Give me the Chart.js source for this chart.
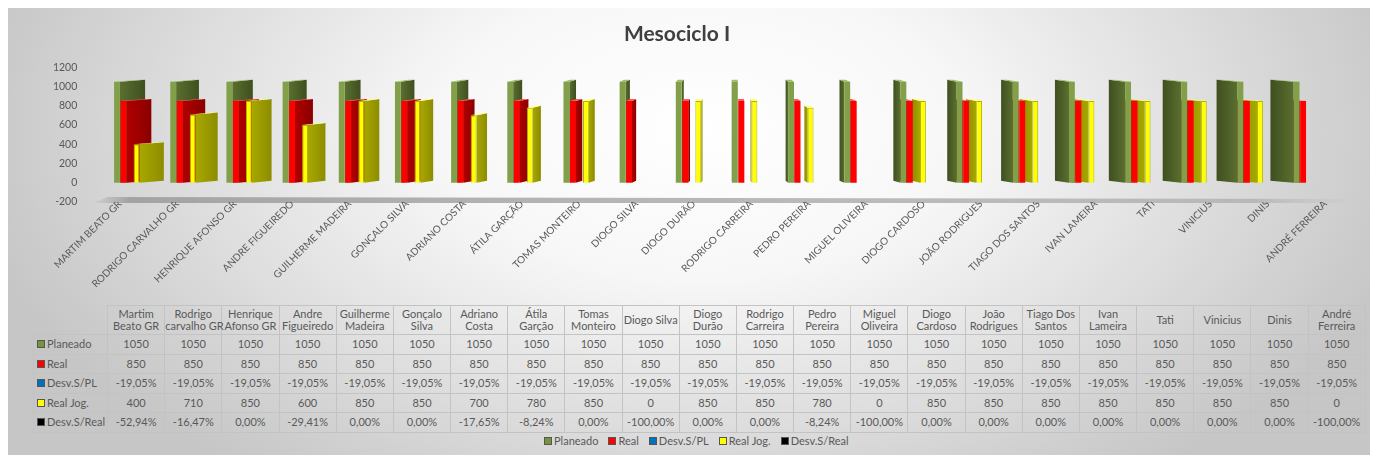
<!DOCTYPE html>
<html lang="pt">
<head>
<meta charset="utf-8">
<title>Mesociclo I</title>
<script src="https://cdn.jsdelivr.net/npm/chart.js@4.4.1/dist/chart.umd.min.js"></script>
<style>
  html, body { margin: 0; padding: 0; background: #ffffff; }
  body { position: relative; width: 1373px; height: 459px; overflow: hidden;
         font-family: Lato, "Liberation Sans", sans-serif; color: #595959; }
  #fundo { position: absolute; left: 8px; top: 8px; width: 1362px; height: 447px;
           background: radial-gradient(ellipse 740px 430px at 690px 120px,
                       #ffffff 0%, #f7f7f7 35%, #dddddd 70%, #c6c6c6 100%); }
  #grafico { position: absolute; left: 0; top: 0; }
  #tabela { position: absolute; left: 33px; top: 305px; width: 1332px;
            border-collapse: collapse; table-layout: fixed; font-size: 11px; }
  #tabela td { border: 1px solid #c3c3c3; text-align: center; padding: 0;
               height: 18.5px; line-height: 12px; white-space: nowrap; overflow: visible; }
  #tabela tr.cab td { height: 28px; line-height: 12.5px; }
  #tabela td.canto { border: none; }
  #tabela td.serie { text-align: left; padding-left: 3px; }
  .quad { display: inline-block; width: 6px; height: 6px; border: 1px solid #555;
          margin-right: 2px; vertical-align: 0px; }
  #legenda { position: absolute; left: 544px; top: 434px; font-size: 11px;
             line-height: 14px; white-space: nowrap; }
  #legenda .item { margin-right: 10px; }
</style>
</head>
<body>
<div id="fundo"></div>
<canvas id="grafico" width="1373" height="300"></canvas>
<table id="tabela"></table>
<div id="legenda"></div>
<script>
const categorias = ['Martim Beato GR', 'Rodrigo carvalho GR', 'Henrique Afonso GR', 'Andre Figueiredo',
  'Guilherme Madeira', 'Gonçalo Silva', 'Adriano Costa', 'Átila Garção', 'Tomas Monteiro', 'Diogo Silva',
  'Diogo Durão', 'Rodrigo Carreira', 'Pedro Pereira', 'Miguel Oliveira', 'Diogo Cardoso', 'João Rodrigues',
  'Tiago Dos Santos', 'Ivan Lameira', 'Tati', 'Vinicius', 'Dinis', 'André Ferreira'];

const planeado = [1050, 1050, 1050, 1050, 1050, 1050, 1050, 1050, 1050, 1050, 1050,
                  1050, 1050, 1050, 1050, 1050, 1050, 1050, 1050, 1050, 1050, 1050];
const real = [850, 850, 850, 850, 850, 850, 850, 850, 850, 850, 850,
              850, 850, 850, 850, 850, 850, 850, 850, 850, 850, 850];
// desvios em percentagem
const desvPL = [-19.05, -19.05, -19.05, -19.05, -19.05, -19.05, -19.05, -19.05, -19.05, -19.05, -19.05,
                -19.05, -19.05, -19.05, -19.05, -19.05, -19.05, -19.05, -19.05, -19.05, -19.05, -19.05];
const realJog = [400, 710, 850, 600, 850, 850, 700, 780, 850, 0, 850,
                 850, 780, 0, 850, 850, 850, 850, 850, 850, 850, 0];
const desvReal = [-52.94, -16.47, 0, -29.41, 0, 0, -17.65, -8.24, 0, -100, 0,
                  0, -8.24, -100, 0, 0, 0, 0, 0, 0, 0, -100];

const ticksY = [-200, 0, 200, 400, 600, 800, 1000, 1200];

const series = [
  { nome: 'Planeado', valores: planeado, pct: false, frente: '#82a04a', lado: '#5a6f2f', ladoFim: '#3f4f20', topo: '#a2bb62', marca: '#77933c' },
  { nome: 'Real', valores: real, pct: false, frente: '#ff0000', lado: '#b00000', ladoFim: '#8a0000', topo: '#ff5a5a', marca: '#ff0000' },
  { nome: 'Desv.S/PL', valores: desvPL, pct: true, frente: '#0070c0', lado: '#004f88', ladoFim: '#003a66', topo: '#3b95d6', marca: '#0070c0' },
  { nome: 'Real Jog.', valores: realJog, pct: false, frente: '#ffff00', lado: '#a8a800', ladoFim: '#8c8c00', topo: '#ffff80', marca: '#ffff00' },
  { nome: 'Desv.S/Real', valores: desvReal, pct: true, frente: '#000000', lado: '#333333', ladoFim: '#222222', topo: '#555555', marca: '#000000' }
];

Chart.defaults.font.family = 'Lato, "Liberation Sans", sans-serif';
Chart.defaults.color = '#595959';

// piso cinzento por baixo dos eixos e das colunas
const piso = {
  id: 'piso',
  beforeDraw(chart) {
    const { ctx, chartArea: area, scales } = chart;
    const yChao = scales.y.getPixelForValue(ticksY[0]);
    ctx.save();
    const gp = ctx.createLinearGradient(area.left, 0, area.right, 0);
    gp.addColorStop(0, 'rgba(150,150,150,0)');
    gp.addColorStop(0.03, 'rgba(150,150,150,0.8)');
    gp.addColorStop(0.92, 'rgba(170,170,170,0.7)');
    gp.addColorStop(1, 'rgba(180,180,180,0)');
    ctx.fillStyle = gp;
    ctx.beginPath();
    ctx.moveTo(area.left + 2, yChao + 1);
    ctx.lineTo(area.left + 16, yChao - 5);
    ctx.lineTo(area.right - 8, yChao - 3);
    ctx.lineTo(area.right - 8, yChao + 1);
    ctx.closePath();
    ctx.fill();
    ctx.restore();
  }
};

// faces laterais e topos das colunas (efeito 3D), desenhadas antes das frentes
const PONTO_FUGA = 730;
const faces3d = {
  id: 'faces3d',
  beforeDatasetsDraw(chart) {
    const ctx = chart.ctx;
    const metas = chart.data.datasets.map((d, k) => chart.getDatasetMeta(k));
    const subida = 2;
    ctx.save();
    for (let i = 0; i < categorias.length; i++) {
      const aEsquerda = metas[0].data[i].x < PONTO_FUGA;
      const ordem = aEsquerda ? [0, 1, 2, 3, 4] : [4, 3, 2, 1, 0];
      for (const k of ordem) {
        const el = metas[k].data[i];
        const { x, y, base, width } = el.getProps(['x', 'y', 'base', 'width'], true);
        const cima = Math.min(y, base), baixo = Math.max(y, base);
        if (baixo - cima < 1) continue;
        const dx = (PONTO_FUGA - x) * 0.041;
        const borda = dx > 0 ? x + width / 2 : x - width / 2;
        const s = series[k];

        const gl = ctx.createLinearGradient(borda, 0, borda + dx, 0);
        gl.addColorStop(0, s.lado);
        gl.addColorStop(1, s.ladoFim);
        ctx.fillStyle = gl;
        ctx.beginPath();
        ctx.moveTo(borda, cima);
        ctx.lineTo(borda + dx, cima - subida);
        ctx.lineTo(borda + dx, baixo - subida);
        ctx.lineTo(borda, baixo);
        ctx.closePath();
        ctx.fill();

        ctx.fillStyle = s.topo;
        ctx.beginPath();
        ctx.moveTo(x - width / 2, cima);
        ctx.lineTo(x + width / 2, cima);
        ctx.lineTo(x + width / 2 + dx, cima - subida);
        ctx.lineTo(x - width / 2 + dx, cima - subida);
        ctx.closePath();
        ctx.fill();
      }
    }
    ctx.restore();
  }
};

new Chart(document.getElementById('grafico'), {
  type: 'bar',
  data: {
    datasets: series.map((s, k) => ({
      label: s.nome,
      data: s.valores.map((v, i) => ({ x: i, y: s.pct ? v / 100 : v })),
      backgroundColor: s.frente,
      borderColor: k === 3 ? '#b5b500' : s.frente,
      borderWidth: k === 3 ? 1 : 0,
      categoryPercentage: 0.58,
      barPercentage: 0.9
    }))
  },
  options: {
    responsive: false,
    animation: false,
    layout: { padding: { left: 0, right: 19, top: 0, bottom: 0 } },
    plugins: {
      legend: { display: false },
      tooltip: { enabled: false },
      title: {
        display: true,
        text: 'Mesociclo I',
        color: '#404040',
        font: { size: 21, weight: 'bold' },
        padding: { top: 22, bottom: 20 }
      }
    },
    scales: {
      x: {
        type: 'linear',
        min: -0.69,
        max: 21.79,
        offset: false,
        display: false
      },
      xl: {
        type: 'category',
        position: 'bottom',
        labels: categorias.map(c => c.toUpperCase()),
        offset: true,
        grid: { display: false, drawTicks: false },
        border: { display: false },
        ticks: { autoSkip: false, minRotation: 45, maxRotation: 45, padding: -4,
                  font: { size: 10 }, color: '#595959' },
        afterFit(scale) { scale.height = 98; }
      },
      y: {
        min: ticksY[0],
        max: ticksY[ticksY.length - 1],
        grid: { display: false, drawTicks: false },
        border: { display: false },
        afterBuildTicks(scale) { scale.ticks = ticksY.map(v => ({ value: v })); },
        ticks: { padding: 14, font: { size: 10.5 }, color: '#595959', callback: v => String(v) },
        afterFit(scale) { scale.width = 91.3; }
      }
    }
  },
  plugins: [piso, faces3d]
});

// tabela de dados
const fmt = (v, pct) => pct ? v.toFixed(2).replace('.', ',') + '%' : String(v);
const medidor = document.createElement('canvas').getContext('2d');
medidor.font = '11px Lato';
function cabecalho(nome) {
  const palavras = nome.split(' ');
  let linha1 = palavras[0], j = 1;
  while (j < palavras.length && medidor.measureText(linha1 + ' ' + palavras[j]).width <= 54) {
    linha1 += ' ' + palavras[j];
    j++;
  }
  const resto = palavras.slice(j).join(' ');
  return resto ? linha1 + '<br>' + resto : linha1;
}

const larguraCol = (1332 - 74) / categorias.length;
let html = '<colgroup><col style="width:74px">' +
  categorias.map(() => `<col style="width:${larguraCol}px">`).join('') + '</colgroup>';
html += '<tr class="cab"><td class="canto"></td>' +
  categorias.map(c => `<td>${cabecalho(c)}</td>`).join('') + '</tr>';
series.forEach(s => {
  html += `<tr><td class="serie"><span class="quad" style="background:${s.marca}"></span>${s.nome}</td>` +
    s.valores.map(v => `<td>${fmt(v, s.pct)}</td>`).join('') + '</tr>';
});
document.getElementById('tabela').innerHTML = html;

document.getElementById('legenda').innerHTML = series.map(s =>
  `<span class="item"><span class="quad" style="background:${s.marca}"></span>${s.nome}</span>`).join('');
</script>
</body>
</html>
